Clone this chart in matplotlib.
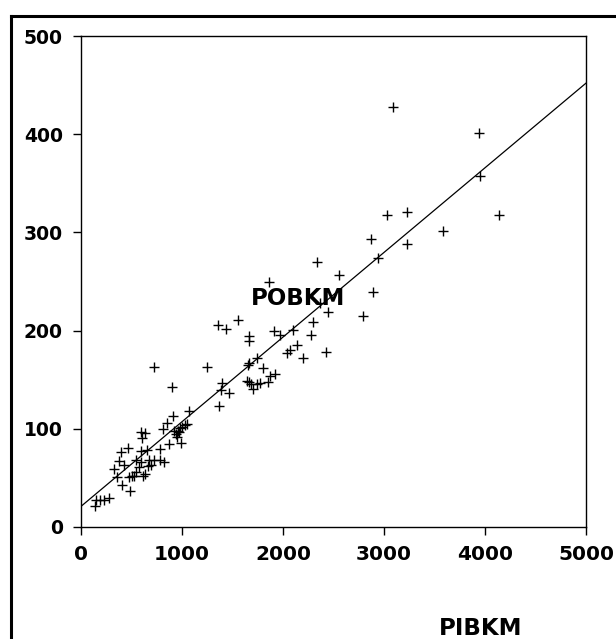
import numpy as np
import matplotlib
matplotlib.use("Agg")
import matplotlib.pyplot as plt
from matplotlib.lines import Line2D

# PIBKM (x) vs POBKM (y)
pibkm = [135, 145, 185, 225, 280, 330, 358, 378, 400, 405, 425, 470, 478, 488, 502,
         528, 545, 545, 578, 598, 594, 610, 637, 600, 598, 637, 653, 660, 677, 693,
         726, 726, 785, 782, 818, 810, 852, 875, 905, 915, 921, 937, 947, 960, 970,
         980, 990, 997, 1030, 1050, 1065,
         1250, 1355, 1436, 1555, 1370, 1383, 1393, 1462, 1640, 1660, 1680, 1700, 1740,
         1770, 1657, 1667, 1667, 1667, 1746, 1805, 1848, 1871, 1921, 1914, 1970, 2036,
         2069, 2140, 2100, 2195, 1861,
         2277, 2300, 2340, 2366, 2423, 2449, 2550, 2795, 2894, 2868, 2944, 3027, 3225,
         3225, 3587, 3086, 3944, 3954, 4142]
pobkm = [21, 28, 27, 28, 30, 59, 51, 67, 76, 43, 63, 80, 51, 37, 52,
         52, 56, 68, 61, 66, 77, 52, 54, 91, 97, 96, 78, 62, 68, 63,
         68, 163, 79, 68, 66, 100, 106, 85, 143, 113, 98, 95, 92, 98, 97,
         101, 86, 102, 104, 105, 118,
         163, 206, 202, 211, 123, 140, 147, 136, 149, 148, 146, 141, 146,
         147, 165, 167, 189, 194, 172, 162, 148, 154, 156, 200, 196, 177,
         180, 185, 201, 172, 250,
         196, 209, 270, 228, 178, 219, 257, 215, 239, 293, 274, 318, 321,
         288, 301, 428, 401, 357, 318]

# fitted line as drawn in the reference
fit_intercept = 21.0
fit_slope = 0.0862

x_ticks = [0, 1000, 2000, 3000, 4000, 5000]
y_ticks = [0, 100, 200, 300, 400, 500]

fig = plt.figure(figsize=(6.16, 6.39), dpi=100)
ax = fig.add_axes([81 / 616, 112 / 639, 505 / 616, 491 / 639])

ax.plot(pibkm, pobkm, linestyle="none", marker="+", ms=6.5, mew=1.0, color="black")
xs = np.array([0, 5000])
ax.plot(xs, fit_intercept + fit_slope * xs, color="black", lw=0.9)

ax.set_xlim(0, 5000); ax.set_ylim(0, 500)
ax.set_xticks(x_ticks); ax.set_yticks(y_ticks)
ax.tick_params(direction="out", length=6, width=1.0, pad=7)
for lbl in ax.get_xticklabels():
    lbl.set_fontweight("bold"); lbl.set_fontsize(14.5); lbl.set_family("DejaVu Sans")
for lbl in ax.get_yticklabels():
    lbl.set_fontweight("bold"); lbl.set_fontsize(13.5); lbl.set_family("DejaVu Sans")
for sp in ax.spines.values():
    sp.set_linewidth(1.0)

# variable names, placed like the original
fig.text(298 / 616, 1 - 305 / 639, "POBKM", ha="center", va="baseline",
         fontsize=16.5, fontweight="bold", family="DejaVu Sans")
fig.text(481 / 616, 1 - 635 / 639, "PIBKM", ha="center", va="baseline",
         fontsize=16.5, fontweight="bold", family="DejaVu Sans")

# thick outer frame (top and left edges visible)
fig.add_artist(Line2D([11 / 616, 11 / 616], [0, 1 - 16 / 639], transform=fig.transFigure,
                      color="black", lw=2.2, solid_capstyle="projecting"))
fig.add_artist(Line2D([11 / 616, 1], [1 - 16 / 639, 1 - 16 / 639], transform=fig.transFigure,
                      color="black", lw=2.2, solid_capstyle="projecting"))

fig.savefig("out.png", dpi=100, facecolor="white")
